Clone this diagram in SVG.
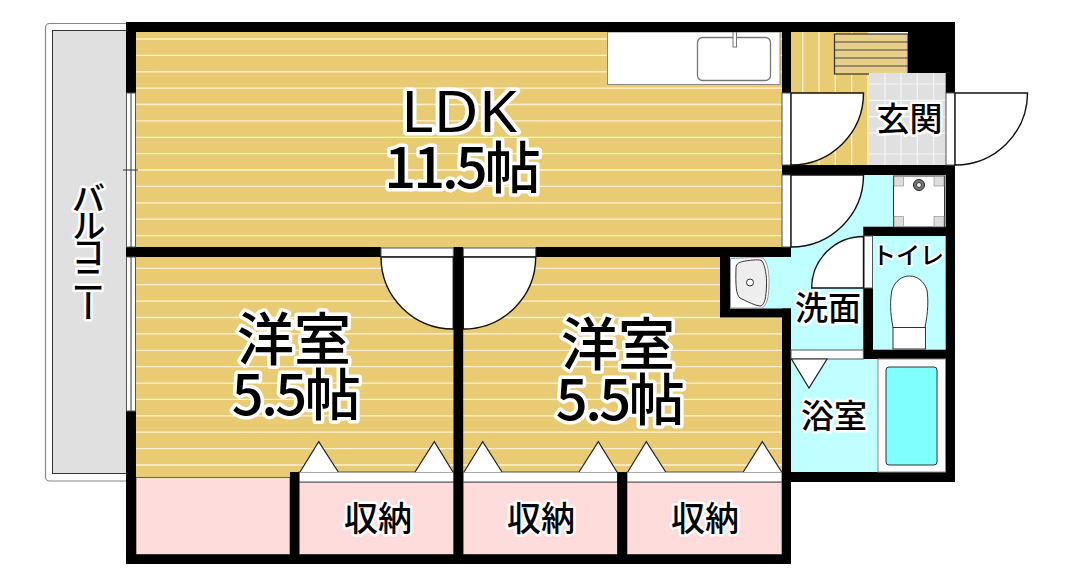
<svg xmlns="http://www.w3.org/2000/svg" width="1077" height="586" viewBox="0 0 1077 586">
<style>
.wall{fill:#000}
.stripe{fill:none;stroke:#fdf3d0;stroke-width:1.3}
.tile{fill:none;stroke:#f6f6f6;stroke-width:1.2}
.door{fill:#fff;stroke:#111;stroke-width:1.4}
.frame{fill:#fff;stroke:#555;stroke-width:1}
.tri{fill:#fff;stroke:#222;stroke-width:1.2}
.pink{fill:#ffdcdc;stroke:#444;stroke-width:.8}
.t{font-family:"Noto Sans CJK JP","Noto Sans",sans-serif;font-weight:500;fill:#000;stroke:#fff;stroke-linejoin:round;paint-order:stroke;text-anchor:middle}
.big{font-size:57px;stroke-width:7}
.num{font-size:56px;stroke-width:7}
.mid{font-size:33px;stroke-width:5}
</style>
<rect width="1077" height="586" fill="#fff"/>
<g id="balcony">
<rect x="45.500" y="23.500" width="90" height="457.500" rx="4" fill="#fff" stroke="#888" stroke-width="1.200"/>
<rect x="52.500" y="30.500" width="80" height="443" fill="#e0e0e0" stroke="#333" stroke-width="1"/>
<text class="t" style="writing-mode:vertical-rl;text-anchor:start;font-size:34px;letter-spacing:-7px;stroke-width:5" x="88.500" y="181">バルコニー</text>
</g>
<g id="floors">
<rect x="136" y="32" width="646" height="440" fill="#e8cb72"/>
<rect x="136" y="470" width="154" height="8" fill="#e8cb72"/>
<path class="stripe" d="M136 39H782M136 55.400H782M136 71.800H782M136 88.100H782M136 104.500H782M136 120.900H782M136 137.300H782M136 153.700H782M136 170H782M136 186.400H782M136 202.800H782M136 219.200H782M136 235.600H782M136 268.300H782M136 284.700H782M136 301.100H782M136 317.500H782M136 333.900H782M136 350.300H782M136 366.700H782M136 383.100H782M136 399.400H782M136 415.800H782M136 432.200H782M136 448.600H782M136 465H782"/>
</g>
<g id="entry-hall">
<rect x="791" y="32" width="78" height="133" fill="#e8cb72"/>
<path class="stripe" d="M802.700 32V165M819 32V165M835.300 32V165M851.700 32V165M868 32V165"/>
<rect x="834.500" y="34" width="73.500" height="40" fill="#e8cf8a" stroke="#333" stroke-width="1.200"/>
<path d="M834.500 42H908M834.500 50H908M834.500 58H908M834.500 66H908" fill="none" stroke="#444" stroke-width="1.200"/>
</g>
<g id="genkan">
<rect x="869" y="73" width="77" height="92" fill="#e0e0e0"/>
<path class="tile" d="M885 73V165M901 73V165M917.300 73V165M933.700 73V165M869 84H946M869 100.300H946M869 116.700H946M869 133H946M869 154H946"/>
<text class="t mid" x="909.500" y="131">玄関</text>
</g>
<g id="wet-area">
<rect x="791" y="175" width="155" height="297" fill="#c0ffff"/>
<rect x="730" y="257" width="61" height="52" fill="#c0ffff"/>
</g>
<g id="kitchen">
<rect x="607.500" y="32" width="172.500" height="52.500" fill="#fff" stroke="#888" stroke-width="1"/>
<rect x="697.500" y="37.500" width="73" height="43" rx="5" fill="#fff" stroke="#777" stroke-width="1.300"/>
<rect x="733" y="32" width="3.500" height="15" fill="#fff" stroke="#777" stroke-width="1"/>
</g>
<g id="closets">
<rect class="pink" x="136" y="477.500" width="154" height="77"/>
<rect class="pink" x="299" y="482" width="155" height="72.500"/>
<rect class="pink" x="463" y="482" width="154.500" height="72.500"/>
<rect class="pink" x="627" y="482" width="155" height="72.500"/>
<rect class="frame" x="299" y="472" width="155" height="10"/>
<rect class="frame" x="463" y="472" width="154.500" height="10"/>
<rect class="frame" x="627" y="472" width="155" height="10"/>
<path class="tri" d="M300 472L318.700 441.700L338.300 472"/>
<path class="tri" d="M415 472L434.300 441.700L453 472"/>
<path class="tri" d="M464 472L482.700 441.700L502 472"/>
<path class="tri" d="M579 472L598.300 441.700L617 472"/>
<path class="tri" d="M627.700 472L646.300 441.700L665.700 472"/>
<path class="tri" d="M743.300 472L762.300 441.700L781.700 472"/>
</g>
<g id="walls" class="wall">
<rect x="126" y="22" width="829" height="10"/>
<rect x="126" y="22" width="10" height="71"/>
<rect x="126" y="411" width="10" height="153"/>
<rect x="126" y="554.500" width="665" height="9.500"/>
<rect x="126" y="247" width="255" height="10"/>
<rect x="535.700" y="247" width="255.300" height="10"/>
<rect x="453.500" y="247" width="9.700" height="317"/>
<rect x="290" y="472" width="9.300" height="92"/>
<rect x="617.300" y="472" width="9.700" height="92"/>
<rect x="782" y="308.500" width="9" height="255"/>
<rect x="720" y="257" width="10" height="60"/>
<rect x="720" y="308.500" width="71" height="9"/>
<rect x="782" y="22" width="9" height="71"/>
<rect x="908" y="22" width="47" height="51"/>
<rect x="945.700" y="22" width="9.300" height="71"/>
<rect x="782" y="165" width="173" height="10"/>
<rect x="945.700" y="165" width="9.300" height="317"/>
<rect x="863.300" y="226.700" width="91.700" height="9.300"/>
<rect x="863.300" y="288" width="9.700" height="71"/>
<rect x="863.300" y="349.700" width="91.700" height="9.300"/>
<rect x="782" y="472" width="173" height="10"/>
</g>
<g id="windows">
<rect class="frame" x="126.500" y="93" width="9" height="154"/>
<rect class="frame" x="126.500" y="257" width="9" height="154"/>
<path d="M131 93V247M131 257V411M123 170H138" fill="none" stroke="#333" stroke-width="1"/>
</g>
<g id="doors">
<rect class="frame" x="782" y="93" width="9" height="72"/>
<path class="door" d="M791 93H863.500A72.500 72 0 0 1 791 165Z"/>
<rect class="frame" x="782" y="175" width="9" height="72"/>
<path class="door" d="M791 175H863.500A72.500 72 0 0 1 791 247Z"/>
<rect class="frame" x="946" y="93" width="9" height="72"/>
<path class="door" d="M955 93H1027.500A72.500 72 0 0 1 955 165Z"/>
<rect class="frame" x="381" y="248" width="72.300" height="9"/>
<rect class="frame" x="463.300" y="248" width="72.400" height="9"/>
<path class="door" d="M381 257H453.300V329A72.300 72 0 0 1 381 257Z"/>
<path class="door" d="M463.300 329V257H535.700A72.400 72 0 0 1 463.300 329Z"/>
<rect class="frame" x="864" y="236" width="8.500" height="52"/>
<path class="door" d="M863.500 236.500V288H811.700A51.800 51.500 0 0 1 863.500 236.500Z"/>
<rect class="frame" x="791" y="350" width="72.300" height="9"/>
<path class="tri" d="M791.500 359H827L809 388Z"/>
</g>
<g id="meter-box">
<rect x="893.500" y="176" width="51" height="51" fill="#fff" stroke="#333" stroke-width="1"/>
<rect x="894" y="176.500" width="9.500" height="9.500" fill="#ddd" stroke="#888" stroke-width=".6"/>
<rect x="934" y="176.500" width="10" height="9.500" fill="#ddd" stroke="#888" stroke-width=".6"/>
<rect x="894" y="216.500" width="9.500" height="10" fill="#ddd" stroke="#888" stroke-width=".6"/>
<rect x="934" y="216.500" width="10" height="10" fill="#ddd" stroke="#888" stroke-width=".6"/>
<circle cx="919" cy="185" r="5.500" fill="#777" stroke="#222" stroke-width="1"/>
<circle cx="919" cy="185" r="2.500" fill="#eee" stroke="#222" stroke-width=".8"/>
</g>
<g id="washbasin">
<path d="M730.500 258.500C745 258 755 257 763 258C768 262 769.500 275 769 286C768.500 298 767 305 762 308H730.500Z" fill="#fff" stroke="#999" stroke-width="1"/>
<path d="M736 268C736 263 740 262 745 261C752 260 760 259 762 261C765 265 767 276 766.500 286C766 297 765 304 761 306C756 306 748 302 740 298C736 295 735.500 285 736 268Z" fill="#eee" stroke="#333" stroke-width="1"/>
<circle cx="750" cy="282.500" r="3.500" fill="#fff" stroke="#333" stroke-width="1"/>
</g>
<g id="toilet">
<path d="M893 327.500C890 312 890 300 892 290C895 281 902 276 909.500 276C917 276 924 281 927 290C928.500 300 928 312 925 327.500Z" fill="#fff" stroke="#333" stroke-width="1"/>
<rect x="893" y="327.500" width="32.500" height="21.500" fill="#fff" stroke="#333" stroke-width="1"/>
</g>
<g id="bathtub">
<rect x="878" y="359" width="67.500" height="113" fill="#fff" stroke="#888" stroke-width="1"/>
<rect x="886" y="367" width="51" height="98" rx="3" fill="#80ffff" stroke="#333" stroke-width="1"/>
</g>
<g id="labels">
<text class="t big" x="459" y="132" textLength="116" lengthAdjust="spacingAndGlyphs" style="font-family:'Noto Sans',sans-serif;font-size:56px;font-weight:400">LDK</text>
<text class="t num" x="461" y="188" style="letter-spacing:-3px">11.5帖</text>
<text class="t big" x="294" y="360">洋室</text>
<text class="t num" x="295" y="415" style="letter-spacing:-2.500px">5.5帖</text>
<text class="t big" x="618" y="365">洋室</text>
<text class="t num" x="619" y="420" style="letter-spacing:-2.500px">5.5帖</text>
<text class="t mid" x="828" y="320">洗面</text>
<text class="t mid" x="834" y="428">浴室</text>
<text class="t" x="908" y="264" style="font-size:24px;stroke-width:4">トイレ</text>
<text class="t" x="378" y="531" style="font-size:34px;stroke-width:5">収納</text>
<text class="t" x="541" y="531" style="font-size:34px;stroke-width:5">収納</text>
<text class="t" x="705" y="531" style="font-size:34px;stroke-width:5">収納</text>
</g>
</svg>
